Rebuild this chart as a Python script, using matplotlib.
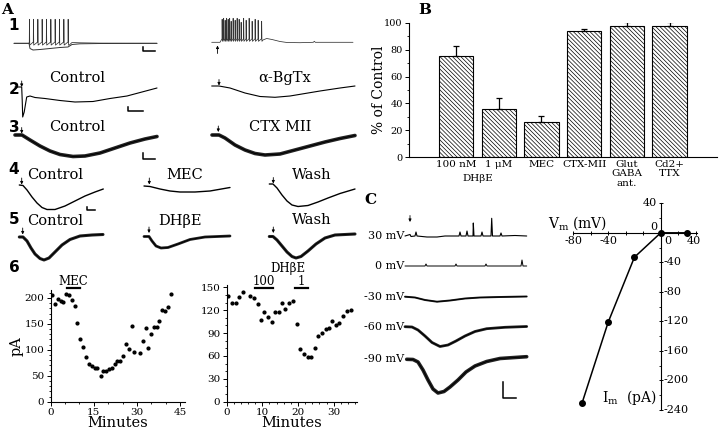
import numpy as np
import matplotlib
import matplotlib.pyplot as plt
from matplotlib.transforms import blended_transform_factory
from matplotlib.ticker import MultipleLocator

matplotlib.use('Agg')
plt.rcParams['font.family'] = 'DejaVu Serif'
plt.rcParams['mathtext.fontset'] = 'dejavuserif'
plt.rcParams['hatch.linewidth'] = 0.5

# ---------------- data ----------------
# B: % of control
b_labels = ['100 nM', '1 \u03bcM', 'MEC', 'CTX-MII', 'Glut\nGABA\nant.', 'Cd2+\nTTX']
b_values = [75, 36, 26, 94, 97.5, 97.5]
b_errors = [8, 8, 4.5, 1.3, 2.8, 2.8]

# A6 left: MEC time course (min, pA)
mec_min = [0.35, 1.5, 2.7, 3.5, 4.4, 5.3, 6.4, 7.3, 8.4, 9.3, 10.2, 11.4, 12.3, 13.3,
           14.3, 15.4, 16.2, 17.4, 18.3, 19.3, 20.3, 21.2, 22.3, 23.2, 24.1, 25.3,
           26.2, 27.3, 28.2, 29.1, 31.1, 32.0, 33.1, 34.0, 34.9, 36.0, 36.9, 37.8,
           38.9, 39.8, 40.7, 41.9]
mec_pa = [206, 188, 198, 195, 192, 208, 206, 197, 185, 152, 121, 105, 86, 72,
          69, 65, 65, 50, 60, 60, 63, 65, 72, 79, 79, 88,
          112, 102, 146, 95, 94, 117, 142, 103, 130, 145, 145, 155,
          176, 175, 182, 208]
mec_on = (5.6, 10.2)

# A6 right: DHbE time course (min, pA)
dh_min = [0.5, 1.6, 2.7, 3.6, 4.7, 6.7, 7.8, 8.8, 9.7, 10.6, 11.6, 12.6, 13.7, 14.6,
          15.6, 16.5, 17.4, 18.5, 19.6, 20.7, 21.8, 22.7, 23.7, 24.7, 25.6, 26.6,
          27.7, 28.6, 29.5, 30.7, 31.6, 32.6, 33.7, 34.9]
dh_pa = [139, 130, 130, 137, 144, 139, 136, 128, 107, 117, 111, 104, 117, 117,
         130, 122, 130, 132, 102, 69, 62, 59, 58, 71, 86, 90,
         95, 96, 106, 101, 103, 112, 119, 120]
dh100_on = (7.9, 12.9)
dh1_on = (19.1, 22.8)

# C: I-V relation
iv_vm = [-90, -60, -30, 0, 30]
iv_im = [-231, -121, -33, 0, 0]

# A traces (t, v) relative to trace start / baseline, v positive up
r1l_hyp_t = [0, 15, 16, 19, 26, 36, 46, 54, 58, 66, 86, 143]
r1l_hyp_v = [0, 0, -5.2, -6.7, -6.2, -5.2, -4.2, -3.7, -1.2, -0.5, -0.2, 0]
r1l_spikes = [15.3, 19.3, 23.7, 28, 32.3, 36.7, 41, 45.3, 49.7, 54]
r1r_spikes = [10.3, 11.8, 13.3, 14.8, 16.3, 17.8, 19.3, 21.3, 23.3, 25.3, 27.3, 29.3,
              31.8, 34.3, 37.3, 40.3, 43.3, 46.3, 49.8]
r1r_tops = [23, 24, 22, 24, 23, 24, 21, 24, 22, 24, 23, 20, 24, 22, 24, 21, 23, 22, 21]
r1r_tail_t = [51.3, 55, 60.3, 68.3, 75.3, 88.3, 101.6, 102.6, 103.6, 141.3]
r1r_tail_v = [2.3, 3.8, 2.8, 0.8, -0.2, -0.4, 0, 1, 0, 0]

r2_ctl_t = [0, 6.7, 7.2, 7.7, 9.2, 11.7, 15, 20, 30, 45, 60, 78, 95, 112, 127, 142]
r2_ctl_v = [0, 0, -13, -30, -25, -10, -9, -10.5, -11.5, -13.5, -15, -14.5, -11.5, -9, -5, -1]
r2_bgt_t = [0, 7.3, 18.3, 33.3, 48.3, 63.3, 78.3, 93.3, 108.3, 128.3, 143.3]
r2_bgt_v = [0, 0, -2, -7, -10.5, -11.3, -10, -7.5, -5, -2, 0]

r3_ctl_t = [0, 7, 15, 25, 35, 45, 58, 70, 85, 100, 115, 130, 142]
r3_ctl_v = [0, 0, -5, -11, -16, -19.5, -21.5, -21, -18, -13, -8, -4, -1.5]
r3_ctx_t = [0, 7, 13, 23, 33, 43, 53, 68, 83, 98, 113, 128, 143]
r3_ctx_v = [0, 0, -3, -10, -15, -18.5, -20, -19, -15, -11, -7, -3.5, -0.5]

r4_ctl_t = [0, 3.7, 7.7, 12.7, 17.7, 22.7, 27.7, 35.7, 45.7, 55.7, 65.7, 75.7, 84]
r4_ctl_v = [0, -0.5, -5, -12, -18, -22.5, -24.5, -24.5, -21, -16, -11, -7, -4]
r4_mec_t = [0, 6, 16, 26, 36, 51, 66, 86]
r4_mec_v = [0, -0.5, -3, -5, -6, -6, -5, -1.5]
r4_wash_t = [0, 3.7, 7.7, 12.7, 17.7, 22.7, 28.7, 38.7, 48.7, 58.7, 70.7, 85.7]
r4_wash_v = [0, 0, -4, -11, -17, -21, -22.5, -21.5, -18, -14, -9.5, -5]

r5_ctl_t = [0, 3.7, 7.7, 11.7, 15.7, 20.7, 24.7, 29.7, 35.7, 42.7, 50.7, 60.7, 72.7, 83.7]
r5_ctl_v = [0, 0, -4, -11, -17, -21.5, -23, -21, -15, -8, -2.5, 1, 2, 2.5]
r5_dh_t = [0, 5, 8, 12, 17, 24, 34, 46, 61, 86]
r5_dh_v = [0, 0, -4.5, -9.5, -11.5, -11, -7.5, -3, -0.5, 0.5]
r5_wash_t = [0, 3.7, 7.7, 12.7, 17.7, 22.7, 26.7, 31.7, 38.7, 46.7, 55.7, 65.7, 85.7]
r5_wash_v = [0, 0, -3.5, -9.5, -15.5, -20, -21.5, -20, -14.5, -7.5, -1.5, 1.5, 2.5]

# C traces at holding potentials
c_labels = ['30 mV', '0 mV', '-30 mV', '-60 mV', '-90 mV']
c30_t = [0, 5, 6, 10, 11, 12, 22, 32, 40, 54, 55, 56, 61, 62, 63, 68, 68.3, 69, 76, 77, 78,
         86, 86.7, 87.5, 95, 96, 97, 110, 121.7]
c30_v = [0, 1.5, -0.5, 0, 4, 0, -1, -1, 0, 0, 4, 0, 0, 5, 0, 0, 13, 0, 0, 4, 0,
         0, 17.7, 0, 0, 3, 0, 0.5, 0]
c0_t = [0, 20, 21, 22, 50, 51, 52, 80, 81, 82, 116, 117, 118, 121.7]
c0_v = [0, 0, 2, 0, 0, 2, 0, 0, 2, 0, 0, 6, 0, 0]
c_m30_t = [0, 10, 20, 32, 45, 60, 75, 95, 121.7]
c_m30_v = [0, -0.8, -3.3, -5, -3.8, -1.8, -0.8, -0.3, 0.2]
c_m60_t = [0, 7, 13, 20, 27, 35, 43, 51, 60, 70, 81.7, 100, 121.7]
c_m60_v = [0, -0.3, -3.3, -9.3, -15.8, -19.8, -18.3, -14.3, -9.3, -4.8, -2, -0.6, 0.2]
c_m90_t = [1.7, 8, 13, 18, 23, 28, 33, 39, 45, 53, 61, 70, 81.7, 95, 121.7]
c_m90_v = [0, -0.2, -2.7, -10.7, -20.7, -29.7, -33.7, -32.2, -27.7, -20.7, -12.7, -6.7, -2.2, 0.8, 2.6]

# ---------------- figure ----------------
W, H = 720, 433
fig = plt.figure(figsize=(7.2, 4.33), dpi=100)


def px_axes(l, t, r, b):
    return fig.add_axes([l / W, 1 - b / H, (r - l) / W, (b - t) / H])


ov = fig.add_axes([0, 0, 1, 1])
ov.set_xlim(0, W)
ov.set_ylim(H, 0)
ov.axis('off')
ov.patch.set_alpha(0)


def trace(x0, y0, t, v, lw=0.8, color='k'):
    ov.plot(x0 + np.asarray(t), y0 - np.asarray(v), color=color, lw=lw,
            solid_joinstyle='round', solid_capstyle='round')


def noisy(x0, y0, t, v, lw=2.4):
    trace(x0, y0, t, v, lw=lw, color='#222222')
    trace(x0, y0, t, v, lw=0.7, color='k')


def spikes(times, tops, base, ahp):
    xs, ys = [], []
    for ts, top in zip(times, tops):
        xs += [ts, ts + 0.15, ts + 0.45]
        ys += [base, top, ahp]
    return xs, ys


def arrow(x, y0, y1):
    ov.annotate('', xy=(x, y1), xytext=(x, y0),
                arrowprops=dict(arrowstyle='-|>', lw=0.6, color='k', mutation_scale=4,
                                shrinkA=0, shrinkB=0))


def scalebar(x, ytop, ybot, w):
    ov.plot([x, x, x + w], [ytop, ybot, ybot], color='k', lw=1.1)


def label(x, y, s, size=10.5):
    ov.text(x, y, s, ha='center', va='center', fontsize=size)


# panel letters / row numbers
ov.text(7, 10, 'A', ha='center', va='center', fontsize=11, fontweight='bold')
ov.text(425, 10, 'B', ha='center', va='center', fontsize=11, fontweight='bold')
ov.text(370, 200, 'C', ha='center', va='center', fontsize=11, fontweight='bold')
for num, yy in zip('123456', [25, 89, 127, 170, 219, 268]):
    ov.text(14, yy, num, ha='center', va='center', fontsize=11, fontweight='bold',
            family='DejaVu Sans')

# row 1
trace(14, 43.3, r1l_hyp_t, r1l_hyp_v, lw=0.7, color='#333333')
sx, sy = spikes(r1l_spikes, [24] * len(r1l_spikes), 1.3, -1.8)
trace(14, 43.3, [0, 15] + sx + [55, 58, 66, 86, 143], [0, 0] + sy + [-2, 0.8, 0.5, 0.2, 0],
      lw=0.55, color='#333333')
scalebar(142.7, 46.7, 50.7, 12)
sx, sy = spikes(r1r_spikes, r1r_tops, 3.5, 1.0)
trace(211.7, 42.3, [0, 8.3] + sx + r1r_tail_t, [0, 0] + sy + r1r_tail_v, lw=0.55, color='#333333')
arrow(217.5, 53.5, 45.5)

# row 2
label(77, 78.3, 'Control')
label(285, 78.3, '\u03b1-BgTx')
trace(15, 87, r2_ctl_t, r2_ctl_v, lw=0.8)
trace(211.7, 86, r2_bgt_t, r2_bgt_v, lw=0.8)
arrow(21.7, 81, 87)
arrow(219, 79.5, 85.5)
scalebar(128.3, 106.7, 110.7, 15)

# row 3
label(77, 126.7, 'Control')
label(280, 126.7, 'CTX MII')
noisy(15, 135, r3_ctl_t, r3_ctl_v, lw=2.6)
noisy(212, 135, r3_ctx_t, r3_ctx_v, lw=2.6)
arrow(21.7, 127.5, 133.5)
arrow(218.3, 126, 132)
scalebar(143.3, 152.5, 158.5, 12)

# row 4
label(55, 175, 'Control')
label(185, 175, 'MEC')
label(312, 175, 'Wash')
trace(19.3, 185, r4_ctl_t, r4_ctl_v, lw=1.0)
trace(144, 186, r4_mec_t, r4_mec_v, lw=1.0)
trace(269.3, 184, r4_wash_t, r4_wash_v, lw=1.0)
arrow(21.7, 178, 184.5)
arrow(149.3, 178, 184.5)
arrow(273.3, 177.5, 183.5)
scalebar(87.3, 206.5, 210, 8)

# row 5
label(55, 220.7, 'Control')
label(180, 220.7, 'DH\u03b2E')
label(312, 219.5, 'Wash')
noisy(19.3, 237, r5_ctl_t, r5_ctl_v, lw=2.2)
noisy(144, 236.5, r5_dh_t, r5_dh_v, lw=2.0)
noisy(269.3, 236.5, r5_wash_t, r5_wash_v, lw=2.2)
arrow(22.7, 228, 234.5)
arrow(149, 227, 233)
arrow(273.3, 227, 233)

# C traces
trace(405, 236, c30_t, c30_v, lw=0.8)
trace(405, 266, c0_t, c0_v, lw=0.7)
noisy(405, 296.7, c_m30_t, c_m30_v, lw=1.4)
noisy(405, 326.7, c_m60_t, c_m60_v, lw=2.0)
noisy(405, 359.3, c_m90_t, c_m90_v, lw=2.6)
for s, yy in zip(c_labels, [236, 266, 296.7, 326.7, 359.3]):
    ov.text(404, yy, s, ha='right', va='center', fontsize=8)
arrow(410, 215.5, 222)
scalebar(503.3, 381.7, 398.3, 12.4)


def style_axes(ax, size=7.5):
    for side in ['top', 'right']:
        ax.spines[side].set_visible(False)
    for side in ['left', 'bottom']:
        ax.spines[side].set_linewidth(0.8)
    ax.tick_params(which='major', length=3, width=0.7, labelsize=size, pad=1.5)
    ax.tick_params(which='minor', length=1.5, width=0.6)
    ax.patch.set_alpha(0)


# ---------------- B: bar chart ----------------
axb = px_axes(409, 22.7, 717, 157.3)
xb = np.arange(len(b_values))
bars = axb.bar(xb, b_values, width=0.8, color='white', edgecolor='black', linewidth=0.8)
for p in bars:
    p.set_hatch('\\' * 8)
axb.errorbar(xb, b_values, yerr=[np.zeros(len(b_errors)), b_errors], fmt='none',
             ecolor='k', elinewidth=0.9, capsize=2.5, capthick=0.9)
axb.set_xlim(-1.1, 6.11)
axb.set_ylim(0, 100)
style_axes(axb, 7)
axb.yaxis.set_major_locator(MultipleLocator(20))
axb.yaxis.set_minor_locator(MultipleLocator(10))
axb.set_xticks(xb)
axb.set_xticklabels(b_labels, fontsize=7.5, linespacing=1.05)
axb.tick_params(axis='x', length=0, pad=2)
axb.set_ylabel('% of Control', fontsize=10)
axb.yaxis.set_label_coords(-0.075, 0.5)
axb.text(0.5, -0.155, 'DH\u03b2E', transform=axb.get_xaxis_transform(), ha='center',
         va='center', fontsize=7.5)

# ---------------- A6 left ----------------
axl = px_axes(50.7, 290.2, 184.9, 401.7)
axl.plot(mec_min, mec_pa, 'o', color='k', ms=2.0)
axl.set_xlim(0, 46.7)
axl.set_ylim(0, 215)
style_axes(axl, 7.5)
axl.set_xticks([0, 15, 30, 45])
axl.set_yticks([0, 50, 100, 150, 200])
axl.xaxis.set_minor_locator(MultipleLocator(5))
axl.yaxis.set_minor_locator(MultipleLocator(10))
axl.set_xlabel('Minutes', fontsize=10.5, labelpad=-1)
axl.set_ylabel('pA', fontsize=10.5, labelpad=1)
trl = blended_transform_factory(axl.transData, axl.transAxes)
axl.plot(mec_on, [1.017, 1.017], color='k', lw=1.6, transform=trl, clip_on=False)
axl.text(np.mean(mec_on), 1.075, 'MEC', transform=trl, ha='center', va='center', fontsize=8.5)

# ---------------- A6 right ----------------
axr = px_axes(226.5, 285.0, 356.6, 401.7)
axr.plot(dh_min, dh_pa, 'o', color='k', ms=2.0)
axr.set_xlim(0, 36.4)
axr.set_ylim(0, 153)
style_axes(axr, 7.5)
axr.set_xticks([0, 10, 20, 30])
axr.set_yticks([0, 30, 60, 90, 120, 150])
axr.xaxis.set_minor_locator(MultipleLocator(2))
axr.yaxis.set_minor_locator(MultipleLocator(10))
axr.set_xlabel('Minutes', fontsize=10.5, labelpad=-1)
trr = blended_transform_factory(axr.transData, axr.transAxes)
axr.plot(dh100_on, [0.972, 0.972], color='k', lw=1.6, transform=trr, clip_on=False)
axr.plot(dh1_on, [0.972, 0.972], color='k', lw=1.6, transform=trr, clip_on=False)
axr.text(np.mean(dh100_on), 1.028, '100', transform=trr, ha='center', va='center', fontsize=8.5)
axr.text(np.mean(dh1_on), 1.028, '1', transform=trr, ha='center', va='center', fontsize=8.5)
axr.text(17.2, 1.143, 'DH\u03b2E', transform=trr, ha='center', va='center', fontsize=8.5)

# ---------------- C: I-V ----------------
axc = px_axes(573.2, 203.3, 697, 410)
axc.plot(iv_vm, iv_im, '-o', color='k', lw=1.1, ms=4)
axc.set_xlim(-100, 41.5)
axc.set_ylim(-240, 40)
for side in ['top', 'right']:
    axc.spines[side].set_visible(False)
axc.spines['left'].set_position(('data', 0))
axc.spines['bottom'].set_position(('data', 0))
axc.spines['left'].set_linewidth(0.8)
axc.spines['bottom'].set_linewidth(0.8)
axc.patch.set_alpha(0)
axc.set_xticks([-100, -80, -60, -40, -20, 0, 20, 40])
axc.set_xticklabels([])
axc.set_yticks(np.arange(-240, 41, 40))
axc.set_yticklabels([])
axc.yaxis.set_minor_locator(MultipleLocator(20))
axc.tick_params(which='major', length=2.5, width=0.7, direction='inout')
axc.tick_params(which='minor', length=1.5, width=0.6)
for xv, s in zip([-100, -60, 8, 37.5], ['-80', '-40', '0', '40']):
    axc.text(xv, -11, s, ha='center', va='center', fontsize=8)
axc.text(-4, 40, '40', ha='right', va='center', fontsize=8)
axc.text(-4, 8, '0', ha='right', va='center', fontsize=8)
for yv in range(-40, -241, -40):
    axc.text(3, yv, '-%d' % abs(yv), ha='left', va='center', fontsize=8)
axc.text(-129, 13, 'V$_{\\rm m}$ (mV)', ha='left', va='center', fontsize=10)
axc.text(-67, -223, 'I$_{\\rm m}$  (pA)', ha='left', va='center', fontsize=10)

fig.savefig('out.png', dpi=100)
